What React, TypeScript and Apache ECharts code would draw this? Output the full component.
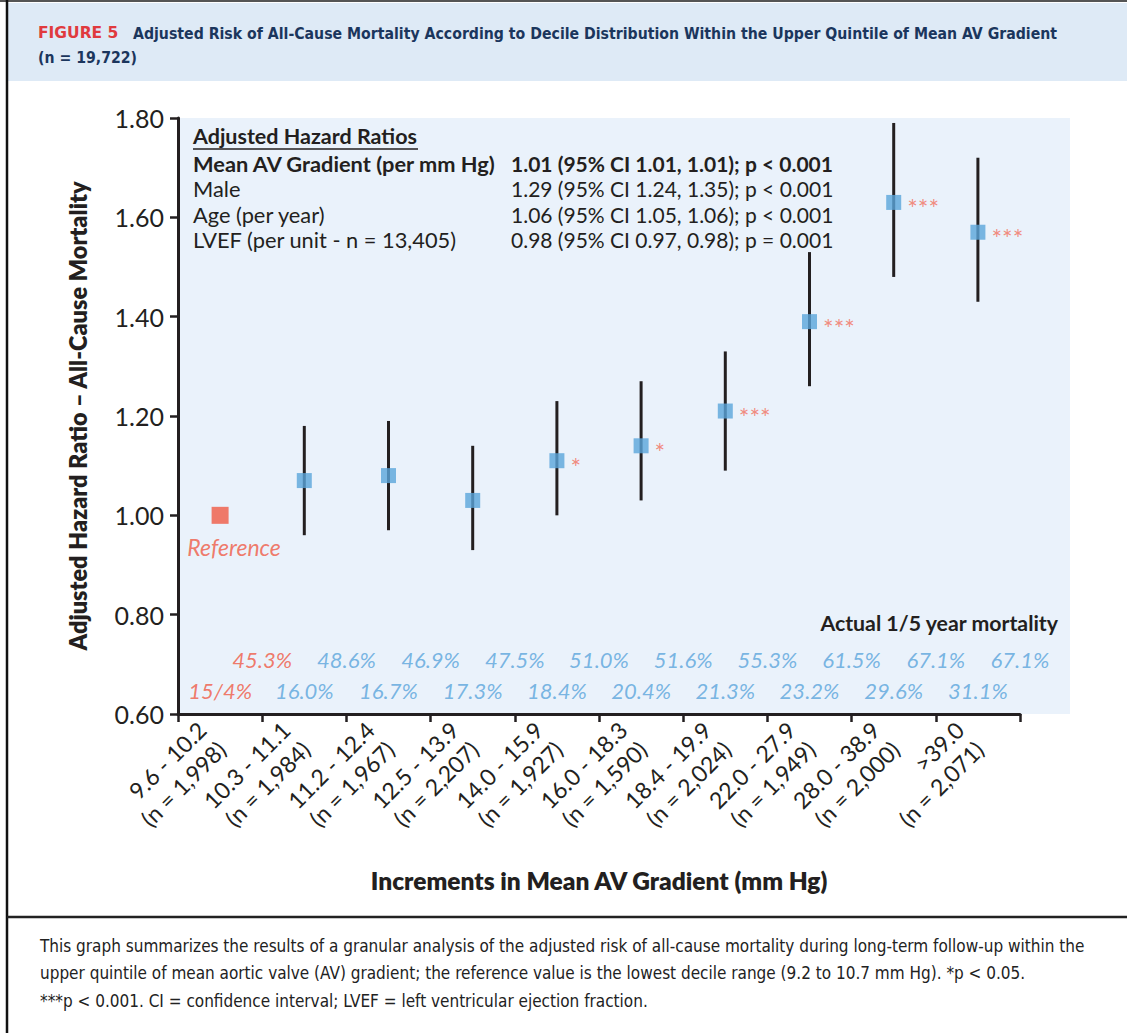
import React, { useEffect, useRef } from "react";
import * as echarts from "echarts";

const categories = [
  "9.6 - 10.2\n(n = 1,998)",
  "10.3 - 11.1\n(n = 1,984)",
  "11.2 - 12.4\n(n = 1,967)",
  "12.5 - 13.9\n(n = 2,207)",
  "14.0 - 15.9\n(n = 1,927)",
  "16.0 - 18.3\n(n = 1,590)",
  "18.4 - 19.9\n(n = 2,024)",
  "22.0 - 27.9\n(n = 1,949)",
  "28.0 - 38.9\n(n = 2,000)",
  ">39.0\n(n = 2,071)",
];
const hazardRatio = [1.0, 1.07, 1.08, 1.03, 1.11, 1.14, 1.21, 1.39, 1.63, 1.57];
const ciLow = [null, 0.96, 0.97, 0.93, 1.0, 1.03, 1.09, 1.26, 1.48, 1.43];
const ciHigh = [null, 1.18, 1.19, 1.14, 1.23, 1.27, 1.33, 1.53, 1.79, 1.72];
const stars = ["", "", "", "", "*", "*", "***", "***", "***", "***"];
const mortality5y = ["45.3%", "48.6%", "46.9%", "47.5%", "51.0%", "51.6%", "55.3%", "61.5%", "67.1%", "67.1%"];
const mortality1y = ["15/4%", "16.0%", "16.7%", "17.3%", "18.4%", "20.4%", "21.3%", "23.2%", "29.6%", "31.1%"];
const yTicks = { min: 0.6, max: 1.8, interval: 0.2 };
const hrTable = [
  ["Mean AV Gradient (per mm Hg)", "1.01 (95% CI 1.01, 1.01); p < 0.001"],
  ["Male", "1.29 (95% CI 1.24, 1.35); p < 0.001"],
  ["Age (per year)", "1.06 (95% CI 1.05, 1.06); p < 0.001"],
  ["LVEF (per unit - n = 13,405)", "0.98 (95% CI 0.97, 0.98); p = 0.001"],
];
const captionLines = [
  "This graph summarizes the results of a granular analysis of the adjusted risk of all-cause mortality during long-term follow-up within the",
  "upper quintile of mean aortic valve (AV) gradient; the reference value is the lowest decile range (9.2 to 10.7 mm Hg). *p < 0.05.",
  "***p < 0.001. CI = confidence interval; LVEF = left ventricular ejection fraction.",
];

const FONT = "Lato, 'Open Sans', sans-serif";
const COND = "'DejaVu Sans Condensed', 'Liberation Sans Narrow', Lato, sans-serif";
const INK = "#231f20";
const BLUE = "#5aa5db";
const RED = "#f05a45";

export default function App() {
  const ref = useRef<HTMLDivElement>(null);
  useEffect(() => {
    const chart = echarts.init(ref.current!, null, { renderer: "svg" });
    const ROW1_Y = 0.709;
    const ROW2_Y = 0.648;

    const tableGraphics: any[] = [];
    tableGraphics.push({
      type: "text", x: 193, y: 136, z: 5,
      style: { text: "Adjusted Hazard Ratios", font: `bold 21.5px ${FONT}`, fill: INK, verticalAlign: "middle" },
    });
    tableGraphics.push({
      type: "line", z: 5, shape: { x1: 193, y1: 149, x2: 418, y2: 149 }, style: { stroke: INK, lineWidth: 1.5 },
    });
    const rowY = [163, 188, 214, 239];
    hrTable.forEach((r, i) => {
      const w = i === 0 ? "bold " : "";
      tableGraphics.push({
        type: "text", x: 193, y: rowY[i], z: 5,
        style: { text: r[0], font: `${w}21.8px ${FONT}`, fill: INK, verticalAlign: "middle" },
      });
      tableGraphics.push({
        type: "text", x: 511, y: rowY[i], z: 5,
        style: { text: r[1], font: `${w}21px ${FONT}`, fill: INK, verticalAlign: "middle" },
      });
    });

    const option: any = {
      animation: false,
      backgroundColor: "#ffffff",
      grid: { left: 178, right: 107, top: 118, bottom: 319, containLabel: false },
      graphic: [
        { type: "rect", z: -10, shape: { x: 178, y: 118, width: 892, height: 596 }, style: { fill: "#eaf2fb" } },
        { type: "rect", shape: { x: 8, y: 3, width: 1119, height: 78 }, style: { fill: "#deeaf6" } },
        { type: "line", shape: { x1: 0, y1: 1, x2: 1127, y2: 1 }, style: { stroke: "#555", lineWidth: 2 } },
        { type: "line", shape: { x1: 7, y1: 0, x2: 7, y2: 1033 }, style: { stroke: "#111", lineWidth: 2.5 } },
        { type: "line", shape: { x1: 7, y1: 917, x2: 1127, y2: 917 }, style: { stroke: "#222", lineWidth: 2.5 } },
        {
          type: "text", x: 38, y: 33,
          style: { text: "FIGURE 5", font: `bold 15.5px 'DejaVu Sans', sans-serif`, fill: "#e03a3e", verticalAlign: "middle" },
        },
        {
          type: "text", x: 133, y: 33,
          style: {
            text: "Adjusted Risk of All-Cause Mortality According to Decile Distribution Within the Upper Quintile of Mean AV Gradient",
            font: `bold 15.7px ${COND}`, fill: "#1b365d", verticalAlign: "middle",
          },
        },
        {
          type: "text", x: 38, y: 57,
          style: { text: "(n = 19,722)", font: `bold 15.7px ${COND}`, fill: "#1b365d", verticalAlign: "middle" },
        },
        {
          type: "text", x: 1058, y: 623, z: 5,
          style: { text: "Actual 1/5 year mortality", font: `bold 21.3px ${FONT}`, fill: INK, align: "right", verticalAlign: "middle" },
        },
        ...tableGraphics,
        ...captionLines.map((t, i) => ({
          type: "text", x: 40, y: [946, 973, 1001][i],
          style: { text: t, font: `17px ${COND}`, fill: "#222", verticalAlign: "middle" },
        })),
      ],
      xAxis: [
        {
          type: "category",
          data: categories,
          boundaryGap: true,
          axisLine: { lineStyle: { color: INK, width: 3 } },
          axisTick: { show: true, length: 8, lineStyle: { color: INK, width: 2.5 } },
          axisLabel: {
            rotate: 45, fontSize: 23, lineHeight: 28, color: INK, fontFamily: FONT, margin: 13, interval: 0,
            padding: [0, 12, 0, 0],
          },
          name: "Increments in Mean AV Gradient (mm Hg)",
          nameLocation: "middle",
          nameGap: 154,
          nameTextStyle: { fontSize: 24.5, fontWeight: 800, color: INK, fontFamily: FONT },
        },
        { type: "value", min: 0, max: 10, show: false },
      ],
      yAxis: {
        type: "value",
        min: yTicks.min,
        max: yTicks.max,
        interval: yTicks.interval,
        axisLine: { show: true, lineStyle: { color: INK, width: 3 } },
        axisTick: { show: true, length: 8, lineStyle: { color: INK, width: 2.5 } },
        splitLine: { show: false },
        axisLabel: {
          fontSize: 25, color: INK, fontFamily: FONT, margin: 14,
          formatter: (v: number) => v.toFixed(2),
        },
        name: "Adjusted Hazard Ratio \u2013 All-Cause Mortality",
        nameLocation: "middle",
        nameRotate: 90,
        nameGap: 88,
        nameTextStyle: { fontSize: 23.5, fontWeight: 800, color: INK, fontFamily: FONT },
      },
      series: [
        {
          type: "custom",
          xAxisIndex: 0,
          z: 3,
          data: hazardRatio
            .map((_, i) => (ciLow[i] == null ? null : [i, ciLow[i], ciHigh[i]]))
            .filter((d) => d != null),
          renderItem: (params: any, api: any) => {
            const p1 = api.coord([api.value(0), api.value(1)]);
            const p2 = api.coord([api.value(0), api.value(2)]);
            return {
              type: "line",
              shape: { x1: p1[0], y1: p1[1], x2: p2[0], y2: p2[1] },
              style: { stroke: INK, lineWidth: 3 },
            };
          },
        },
        {
          type: "scatter",
          xAxisIndex: 0,
          z: 4,
          symbol: "rect",
          symbolSize: 15,
          itemStyle: { color: BLUE },
          data: hazardRatio.map((v, i) => [i, v]).slice(1),
          label: {
            show: true,
            position: "right",
            distance: 6,
            offset: [0, 6],
            color: "#f2705e",
            fontSize: 25,
            fontFamily: FONT,
            formatter: (p: any) => stars[p.data[0]],
          },
        },
        {
          type: "scatter",
          xAxisIndex: 0,
          z: 4,
          symbol: "rect",
          symbolSize: 17,
          itemStyle: { color: RED },
          data: [[0, hazardRatio[0]]],
          label: {
            show: true,
            position: "bottom",
            distance: 12,
            offset: [14, 0],
            formatter: "Reference",
            color: RED,
            fontSize: 23,
            fontStyle: "italic",
            fontFamily: FONT,
          },
        },
        {
          type: "scatter",
          xAxisIndex: 1,
          z: 4,
          symbolSize: 1,
          itemStyle: { color: "rgba(0,0,0,0)" },
          data: [
            ...mortality5y.map((t, i) => ({ value: [i + 1, ROW1_Y], name: t, label: { color: i === 0 ? RED : BLUE } })),
            ...mortality1y.map((t, i) => ({ value: [i + 0.5, ROW2_Y], name: t, label: { color: i === 0 ? RED : BLUE } })),
          ],
          label: {
            show: true,
            position: "inside",
            formatter: (p: any) => p.name,
            fontSize: 22,
            fontStyle: "italic",
            fontFamily: FONT,
          },
        },
      ],
    };
    chart.setOption(option);
    return () => chart.dispose();
  }, []);
  return (
    <div
      ref={ref}
      style={{ position: "absolute", left: 0, top: 0, width: 1127, height: 1033, background: "#fff" }}
    />
  );
}
